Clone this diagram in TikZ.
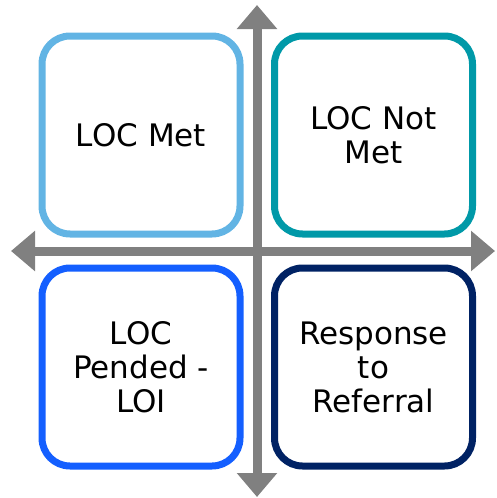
\documentclass[tikz,border=0pt]{standalone}
\usepackage{fontspec}
\setmainfont{DejaVu Sans}
\usepackage{tikz}
\usetikzlibrary{arrows.meta,positioning}

\definecolor{metblue}{RGB}{98,180,228}
\definecolor{notmetteal}{RGB}{0,153,168}
\definecolor{pendblue}{RGB}{20,95,255}
\definecolor{refnavy}{RGB}{0,34,100}
\definecolor{axisgray}{RGB}{128,128,128}

\tikzset{
  quadbox/.style={draw,line width=7pt,rounded corners=28pt,fill=white,
    minimum width=198pt,minimum height=198pt,align=center,
    font=\fontsize{31}{34}\selectfont},
  axisline/.style={line width=9pt,draw=axisgray,
    {Triangle[length=24pt,width=39pt]}-{Triangle[length=24pt,width=39pt]}}
}

\begin{document}
\begin{tikzpicture}[x=1pt,y=-1pt]
\useasboundingbox (0,0) rectangle (496,498);
% axes
\coordinate (top) at (257,5);
\coordinate (bottom) at (257,497);
\coordinate (left) at (11,251);
\coordinate (right) at (495,251);
\draw[axisline] (bottom) -- (top);
\draw[axisline] (left) -- (right);

% quadrants
\node[quadbox,draw=metblue] (met) at (141,135) {LOC Met};
\node[quadbox,draw=notmetteal] (notmet) at (373.5,135) {LOC Not\\Met};
\node[quadbox,draw=pendblue] (pended) at (141,367) {LOC\\Pended -\\LOI};
\node[quadbox,draw=refnavy] (referral) at (373.5,367) {Response\\to\\Referral};
\end{tikzpicture}
\end{document}
